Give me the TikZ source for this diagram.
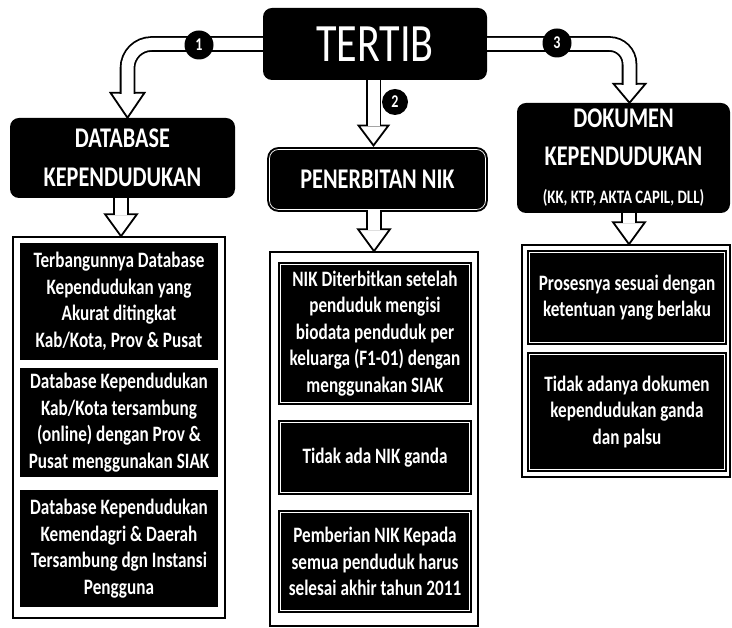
\documentclass[tikz,border=0pt]{standalone}
\usepackage{fontspec}
\setmainfont[FakeStretch=0.78]{Carlito}
\usetikzlibrary{calc}
\tikzset{
headbox/.style={rectangle,rounded corners=9pt,fill=black,text=white,align=center,inner sep=0pt},
lined/.style={draw=black,line width=2pt,double=white,double distance=0.7pt},
listbox/.style={rectangle,draw=black,line width=1.6pt,fill=white,inner sep=0pt},
itembox/.style={rectangle,fill=black,text=white,align=center,inner sep=0pt,font=\fontsize{22}{26.5}\selectfont\bfseries},
band/.style={draw=black,line width=1.8pt,double=white,double distance=12pt},
tip/.style={draw=black,line width=1.8pt,fill=white},
stepnum/.style={circle,fill=black,text=white,inner sep=0pt,minimum size=29pt,font=\fontsize{18}{18}\selectfont\bfseries}
}
\begin{document}
\begin{tikzpicture}[x=1pt,y=1pt]
\useasboundingbox (0,0) rectangle (732,628);
\node (tertib) at (375,584) [headbox,minimum width=224pt,minimum height=72pt,font=\fontsize{54}{54}\selectfont] {TERTIB};
\node (db) at (122.5,470) [headbox,minimum width=225pt,minimum height=80pt,font=\fontsize{28.5}{39}\selectfont\bfseries] {DATABASE\\KEPENDUDUKAN};
\node (nik) at (377.5,448.5) [headbox,lined,minimum width=216pt,minimum height=60pt,font=\fontsize{28.5}{39}\selectfont\bfseries] {PENERBITAN NIK};
\node (dok) at (623.5,470) [headbox,minimum width=213pt,minimum height=110pt,font=\fontsize{28.5}{38}\selectfont\bfseries] {DOKUMEN\\KEPENDUDUKAN\\{\fontsize{19}{24}\selectfont\bfseries (KK, KTP, AKTA CAPIL, DLL)}};
\node (leftlist) at (119,200.5) [listbox,minimum width=212pt,minimum height=381pt] {};
\node (midlist) at (374,189) [listbox,minimum width=208pt,minimum height=374pt] {};
\node (rightlist) at (626,267) [listbox,minimum width=208pt,minimum height=232pt] {};
\node (l1) at (119,326.5) [itembox,minimum width=198pt,minimum height=117pt] {Terbangunnya Database\\Kependudukan yang\\Akurat ditingkat\\Kab/Kota, Prov \& Pusat};
\node (l2) at (119,205.5) [itembox,minimum width=198pt,minimum height=109pt] {Database Kependudukan\\Kab/Kota tersambung\\(online) dengan Prov \&\\Pusat menggunakan SIAK};
\node (l3) at (119,79.5) [itembox,minimum width=198pt,minimum height=117pt] {Database Kependudukan\\Kemendagri \& Daerah\\Tersambung dgn Instansi\\Pengguna};
\node (m1) at (375,294.5) [itembox,lined,minimum width=189pt,minimum height=138pt] {NIK Diterbitkan setelah\\penduduk mengisi\\biodata penduduk per\\keluarga (F1-01) dengan\\menggunakan SIAK};
\node (m2) at (375,170.5) [itembox,lined,minimum width=189pt,minimum height=70pt] {Tidak ada NIK ganda};
\node (m3) at (375,66.5) [itembox,lined,minimum width=189pt,minimum height=98pt] {Pemberian NIK Kepada\\semua penduduk harus\\selesai akhir tahun 2011};
\node (r1) at (627,330.5) [itembox,lined,minimum width=195pt,minimum height=90pt] {Prosesnya sesuai dengan\\ketentuan yang berlaku};
\node (r2) at (627,216) [itembox,lined,minimum width=195pt,minimum height=115pt] {Tidak adanya dokumen\\kependudukan ganda\\dan palsu};
\coordinate (a1) at ($(db.north)+(5,0)$);
\draw[tip] ($(a1)+(-17,25)$) -- (a1) -- ($(a1)+(17,25)$) -- cycle;
\draw[band,rounded corners=24pt] (tertib.west) -| ($(a1)+(0,24)$);
\coordinate (a2) at ($(nik.north)+(-4,3)$);
\draw[tip] ($(a2)+(-15,20)$) -- (a2) -- ($(a2)+(15,20)$) -- cycle;
\draw[band] (a2 |- tertib.south) -- ($(a2)+(0,19)$);
\coordinate (a3) at ($(dok.north)+(6,0)$);
\draw[tip] ($(a3)+(-16,19)$) -- (a3) -- ($(a3)+(16,19)$) -- cycle;
\draw[band,rounded corners=20pt] (tertib.east) -| ($(a3)+(0,18)$);
\coordinate (b1) at ($(leftlist.north)+(2,0)$);
\draw[tip] ($(b1)+(-16,22)$) -- (b1) -- ($(b1)+(16,22)$) -- cycle;
\draw[band] (b1 |- db.south) -- ($(b1)+(0,21)$);
\coordinate (b2) at (midlist.north);
\draw[tip] ($(b2)+(-16,22)$) -- (b2) -- ($(b2)+(16,22)$) -- cycle;
\draw[band] (b2 |- nik.south) -- ($(b2)+(0,21)$);
\coordinate (b3) at ($(rightlist.north)+(3,0)$);
\draw[tip] ($(b3)+(-16,22)$) -- (b3) -- ($(b3)+(16,22)$) -- cycle;
\draw[band] (b3 |- dok.south) -- ($(b3)+(0,21)$);
\node (n1) at (199,583) [stepnum] {1};
\node (n2) at (395,526) [stepnum,minimum size=26pt] {2};
\node (n3) at (557,585) [stepnum] {3};
\end{tikzpicture}
\end{document}
